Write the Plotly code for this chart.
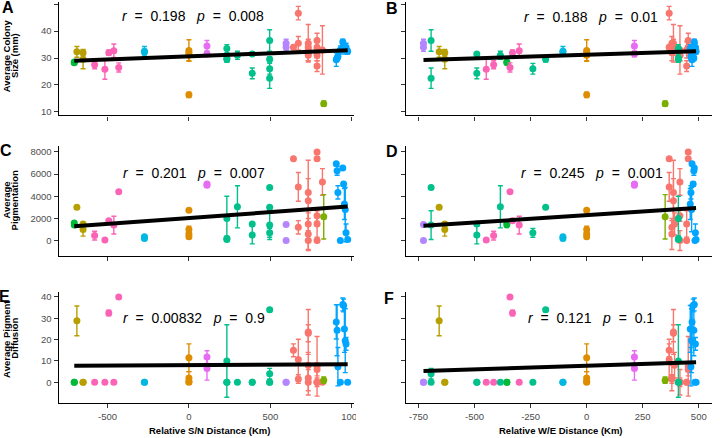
import numpy as np
import plotly.graph_objects as go

# ---------------- data ----------------
group_order = ["salmon", "orange", "olive", "lime", "green", "teal", "cyan", "blue", "purple", "magenta", "pink"]
group_colors = ["#F8766D", "#DE8C00", "#B79F00", "#7CAE00", "#00BA38", "#00C08B",
                "#00B8E0", "#00A5FF", "#B385FF", "#E76BF3", "#FB64B6"]

sample_group = [
    "green", "green",
    "olive", "olive", "olive",
    "pink", "pink", "pink", "pink", "pink",
    "cyan", "cyan",
    "orange", "orange", "orange", "orange",
    "magenta", "magenta",
    "teal", "teal", "teal", "teal", "teal", "teal", "teal", "teal", "teal", "teal",
    "purple", "purple",
    "salmon", "salmon", "salmon", "salmon", "salmon", "salmon", "salmon", "salmon",
    "salmon", "salmon", "salmon", "salmon", "salmon", "salmon",
    "lime",
    "blue", "blue", "blue", "blue", "blue", "blue", "blue", "blue", "blue", "blue",
]
sn_distance = [
    -704, -704,
    -688, -650, -650,
    -579, -516, -492, -461, -431,
    -273, -273,
    0, 0, 0, 0,
    111, 111,
    233, 233, 233, 298, 389, 389, 496, 496, 496, 496,
    597, 597,
    642, 672, 672, 733, 733, 733, 733, 733, 787, 787, 787, 787, 820, 787,
    828,
    905, 910, 915, 930, 945, 950, 955, 960, 965, 975,
]
we_distance = [
    -356, -356,
    -658, -633, -633,
    -415, -448, -331, -301, -342,
    -106, -106,
    0, 0, 0, 0,
    213, 213,
    409, 409, 409, -385, -490, -490, -694, -694, -183, -240,
    -728, -728,
    368, 368, 380, 387, 387, 392, 380, 416, 453, 453, 416, 446, 416, 446,
    350,
    470, 478, 465, 483, 480, 475, 462, 468, 485, 488,
]
colony_mean = [
    28.5, 28.2,
    32.3, 32.0, 29.5,
    27.5, 25.8, 32.0, 32.7, 26.5,
    32.5, 32.2,
    32.8, 32.0, 31.0, 16.3,
    34.5, 31.5,
    33.5, 30.0, 29.5, 31.0, 31.5, 24.3, 36.5, 22.5, 29.5, 26.0,
    35.5, 34.0,
    34.0, 46.7, 35.5, 35.5, 34.0, 33.0, 32.0, 31.0, 36.5, 34.0, 31.0, 27.0, 33.0, 33.0,
    13.0,
    29.4, 30.0, 30.5, 33.0, 36.0, 34.5, 33.5, 33.0, 34.0, 32.5,
]
colony_sd = [
    0.6, 0.5,
    2.0, 1.2, 3.5,
    1.5, 3.7, 1.0, 2.5, 1.7,
    1.8, 1.0,
    4.0, 1.5, 2.0, 1.0,
    2.0, 1.0,
    1.5, 1.5, 1.0, 1.5, 0.5, 2.0, 4.0, 3.8, 1.0, 2.0,
    1.5, 1.5,
    0.8, 2.5, 2.5, 7.0, 3.0, 2.0, 3.0, 2.0, 2.7, 3.0, 2.0, 2.0, 9.0, 3.0,
    1.0,
    2.5, 1.0, 1.0, 1.5, 1.0, 1.5, 1.5, 1.5, 1.5, 1.0,
]
pig_mean = [
    1600, 1400,
    3000, 1500, 1000,
    450, 50, 1800, 1400, 4400,
    350, 200,
    2750, 1000, 600, 350,
    5100, 5000,
    2000, 200, 100, 3050, 1500, 500, 4800, 1400, 3000, 700,
    1450, 0,
    7400, 4850, 1200, 4350, 3600, 1500, 600, 0, 8000, 7400, 2250, 1500, 5300, 0,
    2150,
    6950, 6300, 4350, 0, 6550, 5100, 3300, 2800, 700, 100,
]
pig_sd = [
    100, 100,
    0, 150, 600,
    400, 0, 0, 800, 0,
    100, 80,
    0, 300, 300, 100,
    100, 100,
    2000, 200, 0, 1900, 0, 800, 0, 1300, 0, 400,
    0, 0,
    0, 1300, 600, 2900, 2000, 1000, 1400, 900, 0, 0, 500, 1200, 1200, 0,
    2000,
    0, 400, 600, 0, 0, 200, 1400, 2000, 800, 0,
]
diff_mean = [
    0, 0,
    28.8, 0, 0,
    0, 0, 32.5, 0, 40,
    0, 0,
    11.5, 2.0, 0.5, 0,
    11.8, 6.5,
    10, 0, 0, 0, 0, 0, 4.0, 0, 34, 0,
    0, 0,
    15, 10.7, 1.5, 23.6, 23.0, 8.0, 2.0, 0, 7.5, 6.0, 0, 0, 0, 0,
    1.0,
    28.3, 24.4, 7.3, 0, 36.5, 36.0, 25.0, 19.5, 18.0, 0,
]
diff_sd = [
    0, 0,
    7, 0, 0,
    0, 0, 1.3, 0, 0,
    0, 0,
    6.5, 3.0, 1.0, 0,
    3.0, 5.5,
    17, 0, 0, 0, 0, 0, 2.5, 0, 1.0, 0,
    0, 0,
    3, 9.5, 2, 10.5, 4, 6, 6, 6, 14, 3, 2, 0, 0, 0,
    1.5,
    8, 12, 9, 0, 3, 3, 11, 15, 3, 0,
]

# linear trend lines (A..F): intercept at x = 0, slope per km
trend_intercept = [30.62, 31.2, 2042, 2302, 8.05, 7.72]
trend_slope = [0.0023, 0.00267, 1.062, 1.334, 0.000357, 0.00337]

panel_letters = ["A", "B", "C", "D", "E", "F"]
r_values = ["0.198", "0.188", "0.201", "0.245", "0.00832", "0.121"]
p_values = ["0.008", "0.01", "0.007", "0.001", "0.9", "0.1"]
y_title_lines = [["Average Colony", "Size (mm)"], ["Average", "Pigmentation"],
                 ["Average Pigment", "Diffusion"]]
x_titles = ["Relative S/N Distance (Km)", "Relative W/E Distance (Km)"]
sn_ticks = [-500, 0, 500, 1000]
we_ticks = [-750, -500, -250, 0, 250, 500]
colony_ticks = [10, 20, 30, 40, 50]
pig_ticks = [0, 2000, 4000, 6000, 8000]
diff_ticks = [0, 10, 20, 30, 40]

# ---------------- figure ----------------
W, H = 720, 438
def fx(px): return px / W
def fy(py): return 1 - py / H

FONT = "Liberation Sans, Arial, sans-serif"
sg = np.array(sample_group)
xs_sets = [np.array(sn_distance, float), np.array(we_distance, float)]
ys_sets = [(np.array(colony_mean, float), np.array(colony_sd, float)),
           (np.array(pig_mean, float), np.array(pig_sd, float)),
           (np.array(diff_mean, float), np.array(diff_sd, float))]

fig = go.Figure()
for row in range(3):
    ym, ysd = ys_sets[row]
    for col in range(2):
        idx = row * 2 + col + 1
        xa = "x" if idx == 1 else f"x{idx}"
        ya = "y" if idx == 1 else f"y{idx}"
        xv = xs_sets[col]
        for g, c in zip(group_order, group_colors):
            m = sg == g
            if not m.any():
                continue
            fig.add_trace(go.Scatter(
                x=xv[m], y=ym[m], mode="markers", xaxis=xa, yaxis=ya,
                marker=dict(color=c, size=7, line=dict(width=0)),
                error_y=dict(type="data", array=ysd[m], color=c, thickness=1.4, width=2.5),
                showlegend=False, hoverinfo="skip"))
        lx = np.array([xv.min(), xv.max()])
        ly = trend_intercept[idx - 1] + trend_slope[idx - 1] * lx
        fig.add_trace(go.Scatter(x=lx, y=ly, mode="lines", xaxis=xa, yaxis=ya,
                                 line=dict(color="black", width=4), showlegend=False,
                                 hoverinfo="skip"))

axis_common = dict(showline=True, linecolor="black", linewidth=1.2, ticks="outside",
                   ticklen=4, tickwidth=1, tickcolor="#333333", showgrid=False,
                   zeroline=False, tickfont=dict(family=FONT, size=9.5, color="#4D4D4D"))

row_px = [(2, 116), (147, 257), (293, 405)]
y_ranges = [[8.63, 50.85], [-1375, 8512], [-9.8, 42.5]]
y_tick_sets = [colony_ticks, pig_ticks, diff_ticks]
x_ranges = [[-800, 1014], [-804, 559]]
x_doms = [[fx(59.3), fx(358)], [fx(411), 1.0]]
x_tick_sets = [sn_ticks, we_ticks]

layout = {}
for row in range(3):
    for col in range(2):
        idx = row * 2 + col + 1
        xk = "xaxis" if idx == 1 else f"xaxis{idx}"
        yk = "yaxis" if idx == 1 else f"yaxis{idx}"
        xa = "x" if idx == 1 else f"x{idx}"
        ya = "y" if idx == 1 else f"y{idx}"
        layout[xk] = dict(axis_common, domain=x_doms[col], range=x_ranges[col], anchor=ya,
                          tickvals=x_tick_sets[col],
                          ticktext=[str(t) for t in x_tick_sets[col]],
                          showticklabels=(row == 2))
        layout[yk] = dict(axis_common, domain=[fy(row_px[row][1]), fy(row_px[row][0])],
                          range=y_ranges[row], anchor=xa, tickvals=y_tick_sets[row],
                          ticktext=[str(t) for t in y_tick_sets[row]],
                          showticklabels=(col == 0))

annotations = []
letter_pos = [(8, 8), (396, 9), (6, 151), (396, 152), (5, 298), (393, 300)]
stat_pos = [(121, 16.5), (528, 17), (122, 174), (525, 174), (122, 319), (532, 319)]
sp2 = "\u00a0\u00a0"
for i in range(6):
    annotations.append(dict(x=fx(letter_pos[i][0]), y=fy(letter_pos[i][1]), xref="paper", yref="paper",
                            text=f"<b>{panel_letters[i]}</b>", showarrow=False,
                            font=dict(family=FONT, size=16, color="black"),
                            xanchor="center", yanchor="middle"))
    annotations.append(dict(x=fx(stat_pos[i][0]), y=fy(stat_pos[i][1]), xref="paper", yref="paper",
                            text=f"<i>r</i>{sp2}={sp2}{r_values[i]}\u00a0\u00a0\u00a0<i>p</i>{sp2}={sp2}{p_values[i]}",
                            showarrow=False, font=dict(family=FONT, size=14, color="black"),
                            xanchor="left", yanchor="middle"))

# rotated y titles: one annotation per text line
ytitle_center_y = [56, 201, 340]
ytitle_line_x = [6.5, 14.5]
for row in range(3):
    for li, line in enumerate(y_title_lines[row]):
        annotations.append(dict(x=fx(ytitle_line_x[li]), y=fy(ytitle_center_y[row]),
                                xref="paper", yref="paper", text=f"<b>{line}</b>",
                                showarrow=False, textangle=-90,
                                font=dict(family=FONT, size=9.5, color="black"),
                                xanchor="center", yanchor="middle", borderpad=0))

xtitle_pos = [(212, 432), (567, 432)]
for i in range(2):
    annotations.append(dict(x=fx(xtitle_pos[i][0]), y=fy(xtitle_pos[i][1]), xref="paper", yref="paper",
                            text=f"<b>{x_titles[i]}</b>", showarrow=False,
                            font=dict(family=FONT, size=9.5, color="black"),
                            xanchor="center", yanchor="middle"))

# the left panel is clipped by the right panel in the reference
shapes = [dict(type="rect", xref="paper", yref="paper", x0=fx(360), x1=fx(408),
               y0=fy(426), y1=fy(406), fillcolor="white", line=dict(width=0), layer="above")]

fig.update_layout(width=W, height=H, margin=dict(l=0, r=0, t=0, b=0),
                  paper_bgcolor="white", plot_bgcolor="white", showlegend=False,
                  annotations=annotations, shapes=shapes, **layout)

fig.write_html("out.html", config={"displayModeBar": False},
               post_script="document.body.style.margin='0';document.body.style.padding='0';")
